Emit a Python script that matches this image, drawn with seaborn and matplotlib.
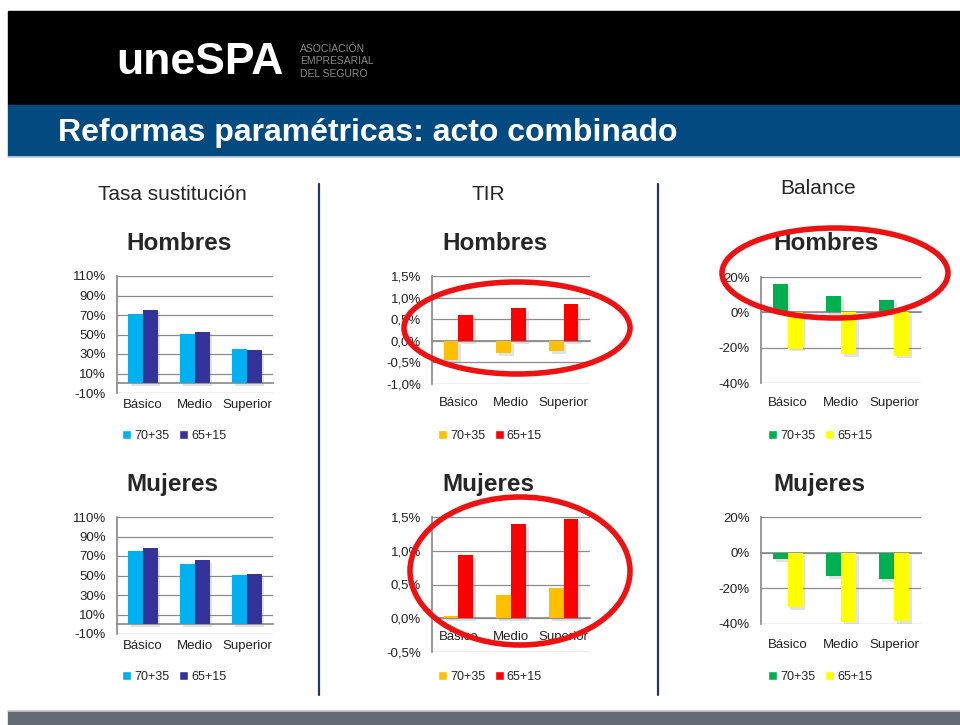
import matplotlib
matplotlib.use("Agg")
import matplotlib.pyplot as plt
import matplotlib.patheffects as pe
import matplotlib.transforms as mtransforms
from matplotlib.patches import Rectangle, Ellipse, Patch
from matplotlib.lines import Line2D
import pandas as pd
import seaborn as sns

# Data
categorias = ["Básico", "Medio", "Superior"]
series = ["70+35", "65+15"]

tasa_hombres_7035 = [71, 51, 35]
tasa_hombres_6515 = [75.5, 53, 34]
tasa_mujeres_7035 = [75, 62, 50.5]
tasa_mujeres_6515 = [78, 66, 51.5]

tir_hombres_7035 = [-0.45, -0.29, -0.23]
tir_hombres_6515 = [0.60, 0.75, 0.85]
tir_mujeres_7035 = [0.04, 0.35, 0.45]
tir_mujeres_6515 = [0.93, 1.39, 1.47]

balance_hombres_7035 = [16, 9, 7]
balance_hombres_6515 = [-20.5, -23.5, -24.5]
balance_mujeres_7035 = [-3.5, -13, -15]
balance_mujeres_6515 = [-30.5, -39, -38.5]

tasa_ticks = [-10, 10, 30, 50, 70, 90, 110]
tir_h_ticks = [-1.0, -0.5, 0.0, 0.5, 1.0, 1.5]
tir_m_ticks = [-0.5, 0.0, 0.5, 1.0, 1.5]
balance_ticks = [-40, -20, 0, 20]

W, H = 960, 725
GRID = "#8c8c8c"

sns.set_theme(style="white")
plt.rcParams["font.family"] = ["Liberation Sans", "DejaVu Sans"]


def fx(x):
    return x / W


def fy(y):
    return 1 - y / H


def pct(v, dec):
    return f"{v:.{dec}f}%".replace(".", ",")


fig = plt.figure(figsize=(9.6, 7.25), dpi=100)

# header bands
fig.add_artist(Rectangle((fx(8), fy(105)), 952 / W, 94 / H, transform=fig.transFigure,
                         color="black", zorder=0))
fig.add_artist(Rectangle((fx(8), fy(156)), 952 / W, 51 / H, transform=fig.transFigure,
                         color="#024a7f", zorder=0))
fig.add_artist(Line2D([fx(8), 1], [fy(157)] * 2, color="#c9d3de", lw=1.2))
fig.add_artist(Rectangle((fx(8), 0), 952 / W, 14 / H, transform=fig.transFigure,
                         color="#646b73", zorder=0))
fig.add_artist(Line2D([fx(8), 1], [fy(710.5)] * 2, color="#c8c8c8", lw=1.2))

fig.text(fx(116), fy(62), "uneSPA", color="white", fontsize=32, fontweight="bold",
         va="center", ha="left")
for i, t in enumerate(["ASOCIACIÓN", "EMPRESARIAL", "DEL SEGURO"]):
    fig.text(fx(300), fy(49 + i * 12.5), t, color="#8a8a8a", fontsize=7.5, va="center")

fig.text(fx(58), fy(133), "Reformas paramétricas: acto combinado", color="white",
         fontsize=23, fontweight="bold", va="center")

# dividers
for xd in [319, 658]:
    fig.add_artist(Line2D([fx(xd)] * 2, [fy(184), fy(695)], color="#1f3864", lw=1.6))

# column headers
fig.text(fx(172), fy(195), "Tasa sustitución", fontsize=15, ha="center", va="center")
fig.text(fx(488), fy(195), "TIR", fontsize=15, ha="center", va="center")
fig.text(fx(818), fy(188), "Balance", fontsize=15, ha="center", va="center")
for xt in [126, 442, 773]:
    fig.text(fx(xt), fy(243), "Hombres", fontsize=17.5, fontweight="bold", va="center")
    fig.text(fx(xt), fy(484), "Mujeres", fontsize=17.5, fontweight="bold", va="center")


def draw_chart(box, v1, v2, colors, yticks, dec, label_y, legend_xy):
    x0, y0, x1, y1 = box
    ax = fig.add_axes([fx(x0), fy(y1), (x1 - x0) / W, (y1 - y0) / H])
    df = pd.DataFrame({
        "cat": categorias * 2,
        "serie": [series[0]] * 3 + [series[1]] * 3,
        "valor": v1 + v2,
    })
    sns.barplot(data=df, x="cat", y="valor", hue="serie", palette=colors, width=0.56,
                saturation=1, errorbar=None, legend=False, ax=ax, linewidth=0, zorder=3)
    for p in ax.patches:
        p.set_path_effects([pe.SimplePatchShadow(offset=(2, -2), shadow_rgbFace="0.55",
                                                 alpha=0.25), pe.Normal()])
    ax.set_ylim(yticks[0], yticks[-1])
    ax.set_xlim(-0.5, 2.5)
    ax.set_yticks(yticks)
    ax.set_yticklabels([pct(v, dec) for v in yticks])
    ax.yaxis.grid(True, color=GRID, lw=0.9)
    ax.set_axisbelow(True)
    ax.set_xlabel("")
    ax.set_ylabel("")
    for s in ["top", "right"]:
        ax.spines[s].set_visible(False)
    ax.spines["left"].set_color(GRID)
    ax.spines["bottom"].set_color(GRID)
    ax.spines["bottom"].set_position(("data", 0))
    ax.set_xticks([0, 1, 2])
    ax.set_xticks([-0.5, 0.5, 1.5, 2.5], minor=True)
    ax.tick_params(axis="x", which="major", length=0, labelbottom=False)
    ax.tick_params(axis="x", which="minor", length=3, color=GRID, direction="out")
    ax.tick_params(axis="y", length=0, pad=8, labelsize=9.5, labelcolor="#222222")
    trans = mtransforms.blended_transform_factory(ax.transData, fig.transFigure)
    for i, c in enumerate(categorias):
        ax.text(i, fy(label_y), c, transform=trans, ha="center", va="center",
                fontsize=9.5, color="#222222")
    handles = [Patch(facecolor=c, label=s) for c, s in zip(colors, series)]
    fig.legend(handles=handles, loc="center", bbox_to_anchor=(fx(legend_xy[0]), fy(legend_xy[1])),
               ncol=2, frameon=False, fontsize=9, handlelength=0.7, handleheight=0.7,
               handletextpad=0.25, columnspacing=0.8, borderpad=0)
    return ax


tasa_col = ["#00b0f0", "#333399"]
tir_col = ["#ffc000", "#ff0000"]
bal_col = ["#00b050", "#ffff00"]

draw_chart((117, 276, 273, 393), tasa_hombres_7035, tasa_hombres_6515, tasa_col,
           tasa_ticks, 0, 405, (174, 436))
draw_chart((117, 517, 273, 634), tasa_mujeres_7035, tasa_mujeres_6515, tasa_col,
           tasa_ticks, 0, 646, (174, 677))
draw_chart((432, 276, 590, 384), tir_hombres_7035, tir_hombres_6515, tir_col,
           tir_h_ticks, 1, 403, (490, 436))
draw_chart((432, 517, 590, 652), tir_mujeres_7035, tir_mujeres_6515, tir_col,
           tir_m_ticks, 1, 637, (490, 677))
draw_chart((761, 277, 921, 383), balance_hombres_7035, balance_hombres_6515, bal_col,
           balance_ticks, 0, 403, (820, 436))
draw_chart((761, 517, 921, 624), balance_mujeres_7035, balance_mujeres_6515, bal_col,
           balance_ticks, 0, 645, (820, 677))

# red highlight ellipses
for cx, cy, ew, eh in [(517, 328, 226, 92), (520, 571, 220, 148), (835, 273, 226, 90)]:
    fig.add_artist(Ellipse((fx(cx), fy(cy)), ew / W, eh / H, transform=fig.transFigure,
                           fill=False, edgecolor="#ee1111", lw=4, zorder=10))

fig.savefig("out.png", dpi=100)
